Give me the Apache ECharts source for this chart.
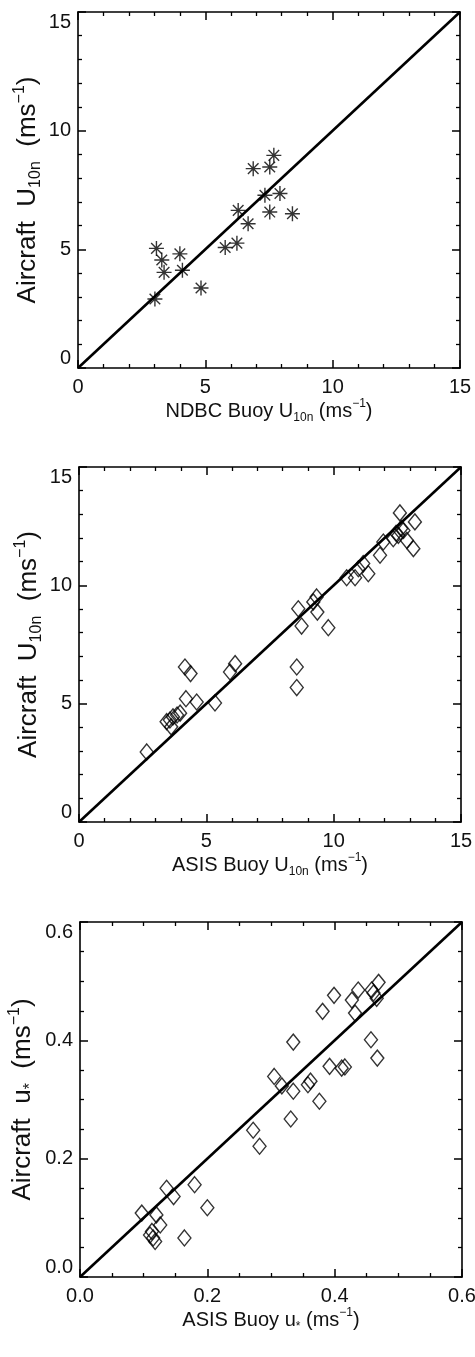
<!DOCTYPE html>
<html>
<head>
<meta charset="utf-8">
<script src="https://cdn.jsdelivr.net/npm/echarts@6/dist/echarts.min.js"></script>
<style>
html,body{margin:0;padding:0;background:#fff;}
#c{width:475px;height:1357px;}
</style>
</head>
<body>
<div id="c"></div>
<script>
// Panel 1: NDBC buoy vs aircraft U10n
var ndbcX = [3.08,3.29,3.38,3.02,4.00,4.10,4.83,5.78,6.24,6.29,6.68,6.88,7.34,7.53,7.53,7.69,7.93,8.42];
var ndbcY = [5.04,4.55,4.03,2.91,4.81,4.12,3.37,5.08,5.26,6.64,6.08,8.40,7.28,6.57,8.47,8.96,7.35,6.50];
// Panel 2: ASIS buoy vs aircraft U10n
var asisX = [2.66,3.44,3.57,3.69,3.85,3.97,3.62,4.20,4.62,4.16,4.38,5.34,5.93,6.13,8.55,8.55,8.61,8.74,9.20,9.33,9.36,9.79,10.51,10.84,10.97,11.16,11.36,11.82,11.95,12.34,12.60,12.54,12.74,12.87,13.13,13.19,12.45,12.65];
var asisY = [2.96,4.24,4.31,4.44,4.52,4.60,4.02,5.21,5.07,6.55,6.27,5.03,6.34,6.69,6.55,5.68,9.01,8.28,9.30,9.51,8.87,8.21,10.32,10.32,10.70,10.92,10.49,11.27,11.83,11.97,13.06,12.11,12.32,11.90,11.55,12.68,12.20,12.40];
// Panel 3: ASIS buoy vs aircraft u*
var ustX = [0.097,0.120,0.126,0.113,0.115,0.118,0.110,0.136,0.147,0.180,0.200,0.164,0.272,0.282,0.305,0.317,0.335,0.335,0.331,0.358,0.362,0.376,0.381,0.399,0.392,0.411,0.416,0.427,0.437,0.432,0.457,0.467,0.458,0.461,0.466,0.469];
var ustY = [0.108,0.105,0.088,0.077,0.066,0.060,0.071,0.150,0.136,0.156,0.117,0.066,0.248,0.221,0.339,0.323,0.397,0.314,0.267,0.325,0.331,0.297,0.449,0.476,0.356,0.353,0.355,0.468,0.485,0.446,0.401,0.370,0.485,0.480,0.471,0.498];
// 1:1 lines
var diagU = [0, 15];
var diagUst = [0, 0.6];
// tick labels
var ticksU = ['0','5','10','15'];
var ticksUst = ['0.0','0.2','0.4','0.6'];

function pairs(xs, ys){ return xs.map(function(x,i){ return [x, ys[i]]; }); }

var FONT = 'Liberation Sans';
var richX = {
  a:{fontSize:20, fontFamily:FONT, color:'#111', lineHeight:26},
  sub:{fontSize:12, fontFamily:FONT, color:'#111', lineHeight:12, verticalAlign:'bottom'},
  sup:{fontSize:12, fontFamily:FONT, color:'#111', lineHeight:12, verticalAlign:'top'}
};
var richY = {
  a:{fontSize:26, fontFamily:FONT, color:'#111', lineHeight:32},
  sub:{fontSize:16, fontFamily:FONT, color:'#111', lineHeight:16, verticalAlign:'bottom'},
  sup:{fontSize:16, fontFamily:FONT, color:'#111', lineHeight:16, verticalAlign:'top'}
};

var grids = [
  {left:78, top:12, width:382, height:356, containLabel:false, outerBoundsMode:'none'},
  {left:79, top:467, width:382, height:355, containLabel:false, outerBoundsMode:'none'},
  {left:80, top:922, width:382, height:355, containLabel:false, outerBoundsMode:'none'}
];
var ranges = [
  {max:15, interval:5, split:5, labels:ticksU},
  {max:15, interval:5, split:5, labels:ticksU},
  {max:0.6, interval:0.2, split:4, labels:ticksUst}
];
var yGaps = [34, 34, 41];
var xNames = [
  '{a|NDBC Buoy U}{sub|10n}{a| (ms}{sup|−1}{a|)}',
  '{a|ASIS Buoy U}{sub|10n}{a| (ms}{sup|−1}{a|)}',
  '{a|ASIS Buoy u}{sub|*}{a| (ms}{sup|−1}{a|)}'
];
var yNames = [
  '{a|Aircraft  U}{sub|10n}{a|  (ms}{sup|−1}{a|)}',
  '{a|Aircraft  U}{sub|10n}{a|  (ms}{sup|−1}{a|)}',
  '{a|Aircraft  u}{sub|*}{a|  (ms}{sup|−1}{a|)}'
];

var xAxes = [], yAxes = [], series = [];
function baseAxis(gi, r, pos, showLabel){
  var labs = r.labels;
  return {
    gridIndex: gi, type:'value', position:pos, min:0, max:r.max, interval:r.interval,
    splitLine:{show:false},
    axisLine:{show:true, onZero:false, lineStyle:{color:'#000', width:1.6}},
    axisTick:{show:true, inside:true, length:8, lineStyle:{color:'#000', width:1.5}},
    minorTick:{show:true, splitNumber:r.split, length:4, lineStyle:{color:'#000', width:1.3}},
    axisLabel:{show:showLabel, color:'#111', fontSize:20, fontFamily:FONT,
      formatter:function(v){ var i = Math.round(v / r.interval); return labs[i] !== undefined ? labs[i] : ''; }}
  };
}
for (var g=0; g<3; g++){
  var r = ranges[g];
  var xb = baseAxis(g, r, 'bottom', true);
  xb.axisLabel.margin = 9;
  xb.name = xNames[g]; xb.nameLocation = 'middle'; xb.nameGap = 30;
  xb.nameMoveOverlap = false;
  xb.nameTextStyle = {rich: richX};
  var xt = baseAxis(g, r, 'top', false);
  var yl = baseAxis(g, r, 'left', true);
  yl.axisLabel.margin = 7;
  yl.axisLabel.verticalAlignMinLabel = 'bottom';
  yl.axisLabel.verticalAlignMaxLabel = 'top';
  yl.name = yNames[g]; yl.nameLocation = 'middle'; yl.nameGap = yGaps[g];
  yl.nameMoveOverlap = false;
  yl.nameTextStyle = {rich: richY};
  var yr = baseAxis(g, r, 'right', false);
  xAxes.push(xb, xt); yAxes.push(yl, yr);
}

var starPath = 'path://M0,-10L0,10M-10,0L10,0M-7.07,-7.07L7.07,7.07M-7.07,7.07L7.07,-7.07';
var diag = [diagU, diagU, diagUst];
var pts = [pairs(ndbcX, ndbcY), pairs(asisX, asisY), pairs(ustX, ustY)];
for (var g=0; g<3; g++){
  series.push({
    type:'line', xAxisIndex:2*g, yAxisIndex:2*g, data:pairs(diag[g], diag[g]),
    symbol:'none', lineStyle:{color:'#000', width:2.6}, silent:true, animation:false, z:2
  });
  series.push({
    type:'scatter', xAxisIndex:2*g, yAxisIndex:2*g, data:pts[g],
    symbol: g===0 ? starPath : 'diamond',
    symbolSize: g===0 ? [15,15] : [13,16],
    itemStyle: g===0 ? {color:'none', borderColor:'#000', borderWidth:1.4}
                     : {color:'rgba(0,0,0,0)', borderColor:'#000', borderWidth:1.4},
    animation:false, z:3
  });
}

var chart = echarts.init(document.getElementById('c'), null, {renderer:'canvas'});
chart.setOption({
  backgroundColor:'#fff',
  animation:false,
  grid:grids,
  xAxis:xAxes,
  yAxis:yAxes,
  series:series
});
</script>
</body>
</html>
